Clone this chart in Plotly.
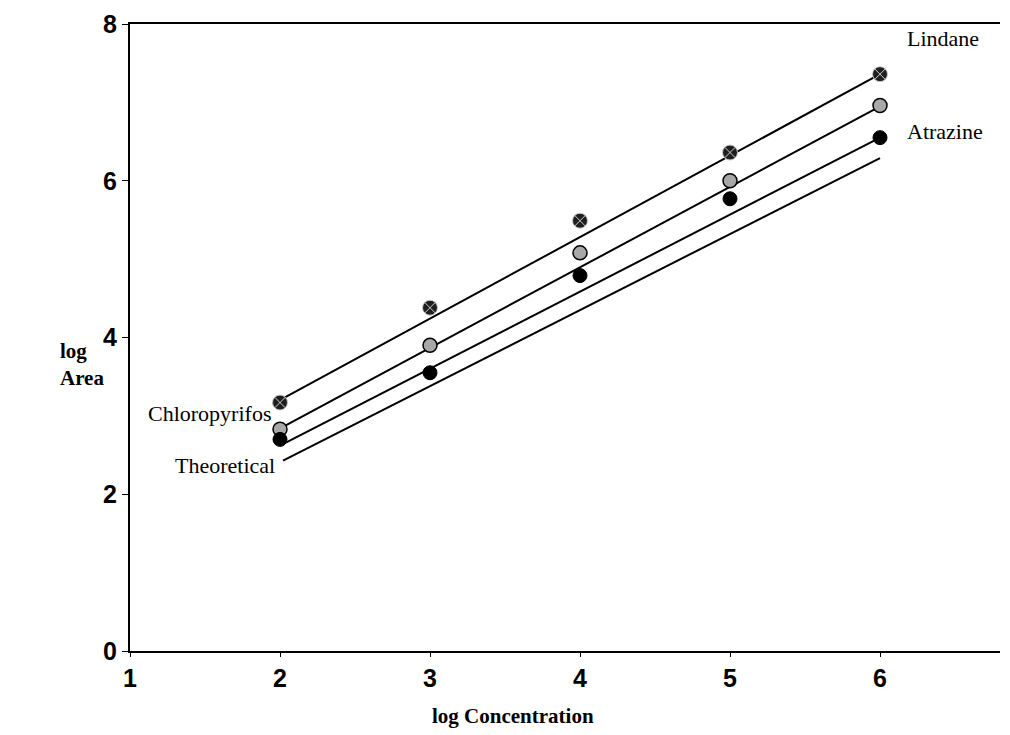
import plotly.graph_objects as go

# ---- data ----
conc = [2, 3, 4, 5, 6]
lindane = [3.17, 4.38, 5.49, 6.36, 7.36]
chloropyrifos = [2.83, 3.90, 5.08, 6.00, 6.96]
atrazine = [2.70, 3.55, 4.79, 5.77, 6.55]

# fitted lines (end points)
lindane_fit_x = [1.95, 6.0]
lindane_fit_y = [3.15, 7.36]
chloro_fit_x = [1.97, 6.01]
chloro_fit_y = [2.81, 6.96]
atrazine_fit_x = [2.0, 6.01]
atrazine_fit_y = [2.62, 6.56]
theoretical_x = [2.02, 6.0]
theoretical_y = [2.43, 6.29]

x_ticks = [1, 2, 3, 4, 5, 6]
y_ticks = [0, 2, 4, 6, 8]

serif = "Liberation Serif, Times New Roman, serif"
sans = "Liberation Sans, Arial, sans-serif"

fig = go.Figure()

line_style = dict(color="black", width=2)
for fx, fy in [(lindane_fit_x, lindane_fit_y), (chloro_fit_x, chloro_fit_y),
               (atrazine_fit_x, atrazine_fit_y), (theoretical_x, theoretical_y)]:
    fig.add_trace(go.Scatter(x=fx, y=fy, mode="lines", line=line_style,
                             showlegend=False, hoverinfo="skip"))

fig.add_trace(go.Scatter(x=conc, y=lindane, mode="markers", name="Lindane",
                         marker=dict(symbol="circle-x", size=15, color="#1e1e1e",
                                     line=dict(color="#cccccc", width=1)),
                         showlegend=False))
fig.add_trace(go.Scatter(x=conc, y=chloropyrifos, mode="markers", name="Chloropyrifos",
                         marker=dict(symbol="circle", size=14, color="#a8a8a8",
                                     line=dict(color="black", width=1.5)),
                         showlegend=False))
fig.add_trace(go.Scatter(x=conc, y=atrazine, mode="markers", name="Atrazine",
                         marker=dict(symbol="circle", size=14, color="black",
                                     line=dict(color="black", width=1)),
                         showlegend=False))

lab_font = dict(family=serif, size=22, color="black")
fig.add_annotation(x=6.167, y=7.82, text="Lindane", showarrow=False,
                   xanchor="left", yanchor="middle", font=lab_font)
fig.add_annotation(x=6.167, y=6.63, text="Atrazine", showarrow=False,
                   xanchor="left", yanchor="middle", font=lab_font)
fig.add_annotation(x=1.95, y=3.03, text="Chloropyrifos", showarrow=False,
                   xanchor="right", yanchor="middle", font=lab_font)
fig.add_annotation(x=1.98, y=2.37, text="Theoretical", showarrow=False,
                   xanchor="right", yanchor="middle", font=lab_font)

title_font = dict(family=serif, size=21, color="black", weight="bold")
fig.add_annotation(x=3.55, y=-0.103, xref="x", yref="paper",
                   text="log Concentration", showarrow=False,
                   xanchor="center", yanchor="middle", font=title_font)
fig.add_annotation(x=-0.083, y=0.457, xref="paper", yref="paper",
                   text="log<br>Area", showarrow=False, align="left",
                   xanchor="left", yanchor="middle", font=title_font)

tick_font = dict(family=sans, size=25, color="black", weight="bold")
fig.update_xaxes(range=[1, 6.8], tickvals=x_ticks, showgrid=False, zeroline=False,
                 showline=True, linecolor="black", linewidth=2, mirror=True,
                 ticks="outside", ticklen=4, tickcolor="black", tickfont=tick_font)
fig.update_yaxes(range=[0, 8], tickvals=y_ticks, showgrid=False, zeroline=False,
                 showline=True, linecolor="black", linewidth=2,
                 ticks="outside", ticklen=6, tickcolor="black", tickfont=tick_font)

fig.update_layout(width=1010, height=735, plot_bgcolor="white", paper_bgcolor="white",
                  margin=dict(l=130, r=10, t=22, b=84))

fig.write_html("out.html")
